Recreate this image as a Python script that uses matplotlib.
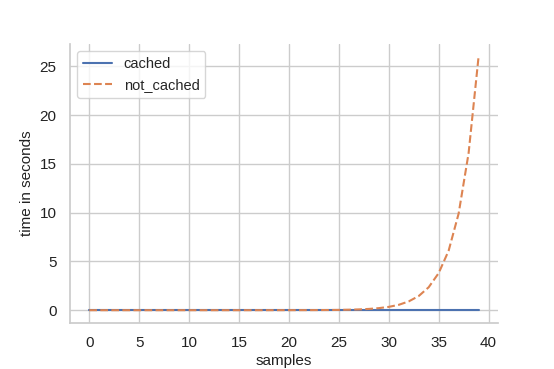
import numpy as np
import pandas as pd
import matplotlib
matplotlib.use("Agg")
import matplotlib.pyplot as plt
import seaborn as sns

# timings (seconds)
samples = list(range(40))
cached = [0.0] * 40
not_cached = [0.0, 0.0, 0.0, 0.0, 0.0, 0.0, 0.0, 0.0, 0.0, 0.0,
              0.0, 0.0, 0.0, 0.0, 0.0, 0.0, 0.0005, 0.0008, 0.0012, 0.002,
              0.003, 0.0045, 0.007, 0.012, 0.019, 0.03, 0.05, 0.08, 0.13, 0.21,
              0.34, 0.55, 0.9, 1.45, 2.35, 3.8, 6.1, 9.9, 16.1, 26.0]

sns.set_theme(style="whitegrid")
plt.rcParams['font.family'] = ['Liberation Sans', 'DejaVu Sans']

df = pd.DataFrame({'samples': samples, 'cached': cached, 'not_cached': not_cached})

fig, ax = plt.subplots(figsize=(5.54, 3.69), dpi=100)
fig.subplots_adjust(left=0.126, right=0.899, top=0.881, bottom=0.125)

pal = sns.color_palette("deep")
ax.plot(df['samples'], df['cached'], color=pal[0], lw=1.5, label='cached')
ax.plot(df['samples'], df['not_cached'], color=pal[1], lw=1.5, ls='--', label='not_cached')

ax.set_xticks([0, 5, 10, 15, 20, 25, 30, 35, 40])
ax.set_yticks([0, 5, 10, 15, 20, 25])
ax.tick_params(labelsize=11, length=0, pad=9.5, labelcolor='#222222')
ax.set_xlabel('samples', fontsize=11, labelpad=3, color='#222222')
ax.set_ylabel('time in seconds', fontsize=11, labelpad=4, color='#222222')
ax.legend(loc='upper left', fontsize=10.5)
sns.despine(ax=ax)

fig.savefig('out.png', dpi=100)
